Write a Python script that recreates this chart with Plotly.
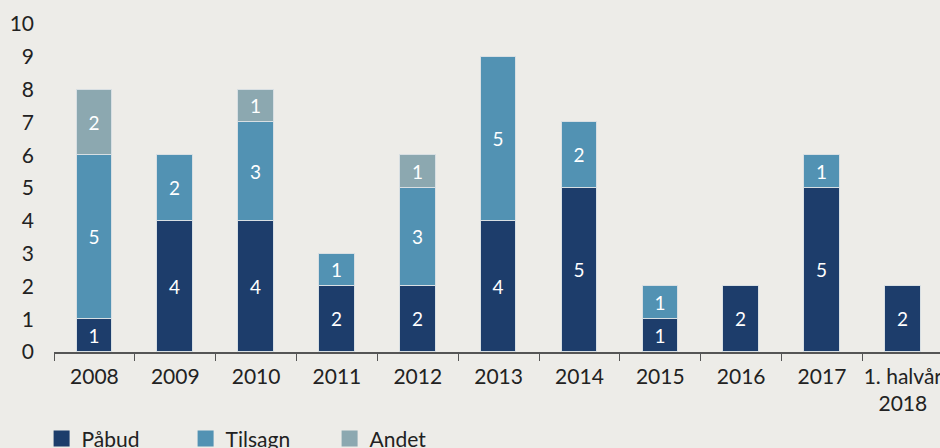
import plotly.graph_objects as go

categories = ["2008", "2009", "2010", "2011", "2012", "2013", "2014", "2015", "2016", "2017", "1. halvår<br>2018"]
pabud = [1, 4, 4, 2, 2, 4, 5, 1, 2, 5, 2]
tilsagn = [5, 2, 3, 1, 3, 5, 2, 1, 0, 1, 0]
andet = [2, 0, 1, 0, 1, 0, 0, 0, 0, 0, 0]
y_ticks = list(range(0, 11))

series = [("Påbud", pabud, "#1d3d6b"), ("Tilsagn", tilsagn, "#5292b3"), ("Andet", andet, "#8ca8b0")]
FONT = "Lato"
bg = "#edece8"

fig = go.Figure()
for name, vals, col in series:
    yv = [v if v else None for v in vals]
    fig.add_trace(go.Bar(
        x=categories, y=yv, name=name, marker=dict(color=col, line=dict(color="#d8dfe3", width=1)),
        width=0.44, text=[str(v) if v else "" for v in vals], textposition="inside",
        insidetextanchor="middle", textfont=dict(color="white", size=19, family=FONT),
        showlegend=False, hoverinfo="skip"))
for name, vals, col in series:
    fig.add_trace(go.Scatter(x=[None], y=[None], mode="markers", name=name,
                             marker=dict(symbol="square", size=17, color=col)))

fig.update_layout(
    width=940, height=448, barmode="stack", bargap=0,
    paper_bgcolor=bg, plot_bgcolor=bg,
    margin=dict(l=54, r=0, t=24, b=96),
    font=dict(family=FONT, color="#222222", size=21),
    showlegend=True,
    legend=dict(orientation="h", x=-0.014, xanchor="left", yref="container", y=0.066, yanchor="top",
                traceorder="normal",
                font=dict(size=21, color="#222222"), entrywidth=99, entrywidthmode="pixels",
                bgcolor="rgba(0,0,0,0)", itemclick=False),
)
fig.update_xaxes(type="category", range=[-0.5, 10.46], showline=True, linecolor="#555555", linewidth=1.5,
                 ticks="outside", tickson="boundaries", ticklen=7, tickcolor="#555555", tickangle=0,
                 automargin=False, showgrid=False, tickfont=dict(size=21, color="#222222"),
                 ticklabelstandoff=5, fixedrange=True)
fig.update_yaxes(range=[0, 10], tickvals=y_ticks, showgrid=False, zeroline=False, showline=False,
                 automargin=False, ticks="", tickfont=dict(size=21, color="#222222"), ticklabelstandoff=19,
                 fixedrange=True)
fig.write_html("out.html", config={"displayModeBar": False},
               post_script="document.body.style.margin='0';document.body.style.background='#edece8';")
